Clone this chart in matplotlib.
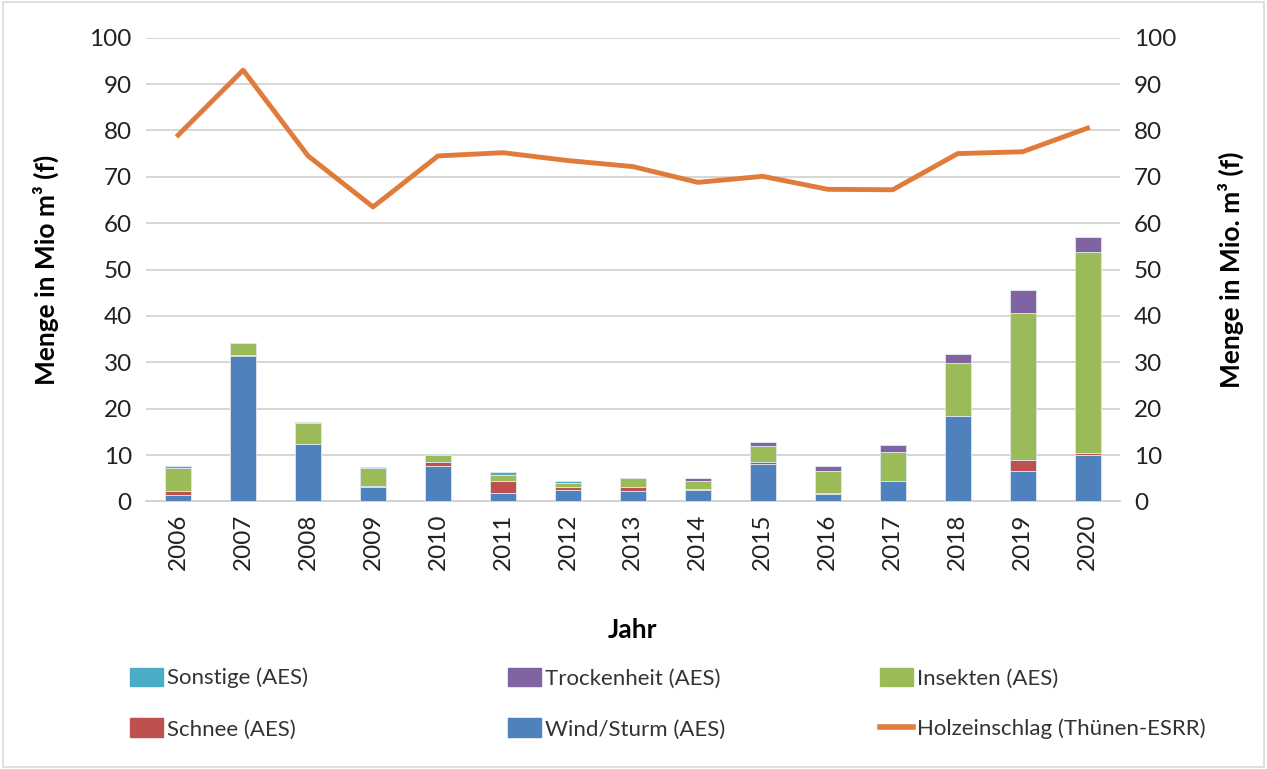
import matplotlib.pyplot as plt
import numpy as np
from matplotlib.patches import Rectangle, Patch
from matplotlib.lines import Line2D

plt.rcParams['font.family'] = ['Lato', 'DejaVu Sans']

years = ['2006', '2007', '2008', '2009', '2010', '2011', '2012', '2013',
         '2014', '2015', '2016', '2017', '2018', '2019', '2020']
wind = [1.4, 31.3, 12.4, 3.1, 7.7, 1.8, 2.4, 2.2, 2.5, 8.1, 1.65, 4.5, 18.4, 6.5, 10.1]
schnee = [0.8, 0.2, 0.0, 0.2, 0.8, 2.7, 0.7, 1.0, 0.2, 0.4, 0.1, 0.0, 0.0, 2.4, 0.3]
insekten = [5.1, 2.6, 4.6, 4.0, 1.4, 1.2, 0.9, 1.8, 1.8, 3.4, 4.85, 6.2, 11.5, 31.8, 43.3]
trocken = [0, 0, 0, 0, 0, 0, 0, 0, 0.6, 0.8, 1.1, 1.4, 1.8, 4.9, 3.3]
sonstige = [0.3, 0, 0.2, 0.1, 0.3, 0.6, 0.3, 0, 0, 0, 0, 0, 0, 0, 0]
holz = [79.0, 93.0, 74.5, 63.5, 74.5, 75.2, 73.5, 72.2, 68.8, 70.1, 67.3, 67.2, 75.0, 75.4, 80.5]

c_wind, c_schnee, c_ins = '#4F81BD', '#C0504D', '#9BBB59'
c_tro, c_son, c_holz = '#8064A2', '#4BACC6', '#E07B39'

fig = plt.figure(figsize=(12.67, 7.69), dpi=100)
ax = fig.add_axes([0.115, 0.348, 0.769, 0.603])
x = np.arange(len(years))
w = 0.4

bottom = np.zeros(len(years))
for vals, col in [(wind, c_wind), (schnee, c_schnee), (insekten, c_ins),
                  (trocken, c_tro), (sonstige, c_son)]:
    ax.bar(x, vals, w, bottom=bottom, color=col, edgecolor='#dfe6f0', linewidth=0.6, zorder=3)
    bottom += np.array(vals)

ax2 = ax.twinx()
ax2.plot(x, holz, color=c_holz, linewidth=3.5, zorder=4)

for a in (ax, ax2):
    a.set_ylim(0, 100)
    a.set_yticks(range(0, 101, 10))
    a.tick_params(axis='y', length=0, labelsize=17.5, colors='#222222', pad=10)
    for s in a.spines.values():
        s.set_visible(False)
ax.spines['bottom'].set_visible(True)
ax.spines['bottom'].set_color('#d0d0d0')
ax.spines['bottom'].set_linewidth(1.3)
ax.yaxis.grid(True, color='#d6d6d6', linewidth=1.4, zorder=0)
ax.set_axisbelow(True)
ax.set_xlim(-0.5, len(years) - 0.5)
ax.set_xticks(x)
ax.set_xticklabels(years, rotation=90, fontsize=17.5, color='#222222')
ax.tick_params(axis='x', length=0, pad=9)

ax.set_ylabel('Menge in Mio m³ (f)', fontsize=19, fontweight='bold', labelpad=22)
ax2.set_ylabel('Menge in Mio. m³ (f)', fontsize=19, fontweight='bold', rotation=90, labelpad=30)
ax.set_xlabel('Jahr', fontsize=19, fontweight='bold', labelpad=34)

# legend: three fixed-width columns like the Excel original
cols = [
    ([Patch(color=c_son), Patch(color=c_schnee)], ['Sonstige (AES)', 'Schnee (AES)'], 0.1026),
    ([Patch(color=c_tro), Patch(color=c_wind)], ['Trockenheit (AES)', 'Wind/Sturm (AES)'], 0.401),
    ([Patch(color=c_ins), Line2D([0], [0], color=c_holz, linewidth=4)],
     ['Insekten (AES)', 'Holzeinschlag (Thünen-ESRR)'], 0.6946),
]
for hs, ls, xpos in cols:
    fig.legend(hs, ls, loc='center left', bbox_to_anchor=(xpos, 0.0852),
               frameon=False, fontsize=16, handlelength=1.5, handleheight=0.9,
               handletextpad=0.15, labelspacing=1.35, borderpad=0, borderaxespad=0,
               labelcolor='#333333')

fig.patches.append(Rectangle((0.002, 0.002), 0.996, 0.996, transform=fig.transFigure,
                             fill=False, edgecolor='#d9d9d9', linewidth=1.2))

fig.savefig('out.png', dpi=100)
